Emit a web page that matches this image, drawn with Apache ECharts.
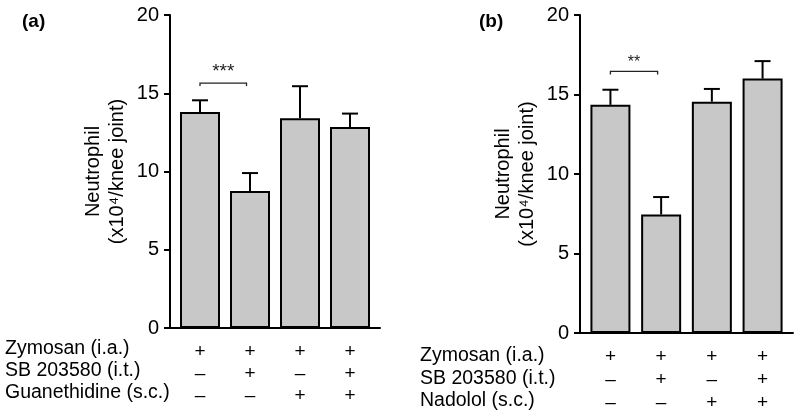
<!DOCTYPE html>
<html>
<head>
<meta charset="utf-8">
<script src="https://cdn.jsdelivr.net/npm/echarts@6/dist/echarts.min.js"></script>
<style>html,body{margin:0;padding:0;background:#fff;}#c{width:800px;height:416px;}</style>
</head>
<body>
<div id="c"></div>
<script>
// ---- data ----
const catX = [1, 2, 3, 4];
const meansA = [13.8, 8.75, 13.4, 12.85];
const semA = [0.75, 1.15, 2.05, 0.85];
const meansB = [14.35, 7.45, 14.55, 16.0];
const semB = [0.95, 1.1, 0.8, 1.1];
const rowLabelsA = ["Zymosan (i.a.)", "SB 203580 (i.t.)", "Guanethidine (s.c.)"];
const rowLabelsB = ["Zymosan (i.a.)", "SB 203580 (i.t.)", "Nadolol (s.c.)"];
const signsA = [["+", "–", "–"], ["+", "+", "–"], ["+", "–", "+"], ["+", "+", "+"]];
const signsB = [["+", "–", "–"], ["+", "+", "–"], ["+", "–", "+"], ["+", "+", "+"]];
const sigA = [1, 1.93, 15.65];
const sigTextA = "***";
const sigB = [1, 1.93, 16.45];
const sigTextB = "**";
const yMin = 0, yMax = 20, yStep = 5;
const yTitle = "Neutrophil\n(x10⁴/knee joint)";
const panelLabels = ["(a)", "(b)"];

const FONT = '"Liberation Sans", Arial, sans-serif';
const chart = echarts.init(document.getElementById('c'), null, {renderer: 'canvas'});

function xAxisFor(gi, signs, lh, margin) {
  return {
    type: 'value', gridIndex: gi, min: 0.4, max: 4.6,
    splitLine: {show: false},
    axisLine: {show: true, onZero: false, lineStyle: {color: '#000', width: 2}},
    axisTick: {show: false},
    axisLabel: {
      show: true, customValues: catX, margin: margin,
      color: '#000', fontFamily: FONT, fontSize: 19, lineHeight: lh,
      formatter: v => signs[Math.round(v) - 1].join('\n')
    }
  };
}
function yAxisFor(gi) {
  return {
    type: 'value', gridIndex: gi, min: yMin, max: yMax, interval: yStep,
    splitLine: {show: false},
    axisLine: {show: true, lineStyle: {color: '#000', width: 2}},
    axisTick: {show: true, length: 6, lineStyle: {color: '#000', width: 2}},
    axisLabel: {color: '#000', fontFamily: FONT, fontSize: 20, margin: 11},
    name: yTitle, nameLocation: 'middle', nameRotate: 90, nameGap: 41,
    nameTextStyle: {color: '#000', fontFamily: FONT, fontSize: 20, lineHeight: 24}
  };
}
function barSeries(gi, means) {
  return {
    type: 'bar', xAxisIndex: gi, yAxisIndex: gi, barWidth: 40,
    data: catX.map((x, i) => [x, means[i]]),
    itemStyle: {color: '#c8c8c8', borderColor: '#000', borderWidth: 2},
    z: 2, silent: true
  };
}
function errSeries(gi, means, sems) {
  return {
    type: 'custom', xAxisIndex: gi, yAxisIndex: gi, z: 3, silent: true,
    data: catX.map((x, i) => [x, means[i], sems[i]]),
    renderItem: (params, api) => {
      const x = api.value(0), m = api.value(1), e = api.value(2);
      const p0 = api.coord([x, m]), p1 = api.coord([x, m + e]);
      const st = {stroke: '#000', lineWidth: 2};
      return {type: 'group', children: [
        {type: 'line', shape: {x1: p0[0], y1: p0[1], x2: p1[0], y2: p1[1]}, style: st},
        {type: 'line', shape: {x1: p1[0] - 8, y1: p1[1], x2: p1[0] + 8, y2: p1[1]}, style: st}
      ]};
    }
  };
}
function sigSeries(gi, sig, txt, gap, fs) {
  return {
    type: 'custom', xAxisIndex: gi, yAxisIndex: gi, z: 3, silent: true,
    data: [sig],
    renderItem: (params, api) => {
      const a = api.coord([api.value(0), api.value(2)]);
      const b = api.coord([api.value(1), api.value(2)]);
      return {type: 'group', children: [
        {type: 'polyline', shape: {points: [[a[0], a[1] + 3], [a[0], a[1]], [b[0], b[1]], [b[0], b[1] + 3]]},
         style: {stroke: '#222', lineWidth: 1.3, fill: null}},
        {type: 'text', style: {text: txt, x: (a[0] + b[0]) / 2, y: a[1] - gap, align: 'center',
         verticalAlign: 'bottom', fontFamily: FONT, fontSize: fs, fill: '#222'}}
      ]};
    }
  };
}

const rowText = (labels, x, ys) => labels.map((t, i) => ({
  type: 'text', left: x, top: ys[i] - 11,
  style: {text: t, fontFamily: FONT, fontSize: 19.5, fill: '#000'}
}));

chart.setOption({
  animation: false,
  backgroundColor: '#fff',
  grid: [
    {left: 170, top: 15, width: 210, height: 313},
    {left: 580, top: 15, width: 213, height: 318}
  ],
  xAxis: [xAxisFor(0, signsA, 22, 13), xAxisFor(1, signsB, 23, 12)],
  yAxis: [yAxisFor(0), yAxisFor(1)],
  series: [
    barSeries(0, meansA), errSeries(0, meansA, semA), sigSeries(0, sigA, sigTextA, 2, 19),
    barSeries(1, meansB), errSeries(1, meansB, semB), sigSeries(1, sigB, sigTextB, 1, 16)
  ],
  graphic: [
    {type: 'text', left: 22, top: 12, style: {text: panelLabels[0], fontFamily: FONT, fontSize: 19, fontWeight: 'bold', fill: '#000'}},
    {type: 'text', left: 479, top: 12, style: {text: panelLabels[1], fontFamily: FONT, fontSize: 19, fontWeight: 'bold', fill: '#000'}},
    ...rowText(rowLabelsA, 5, [350, 372, 394]),
    ...rowText(rowLabelsB, 420, [357, 380, 402])
  ]
});
</script>
</body>
</html>
